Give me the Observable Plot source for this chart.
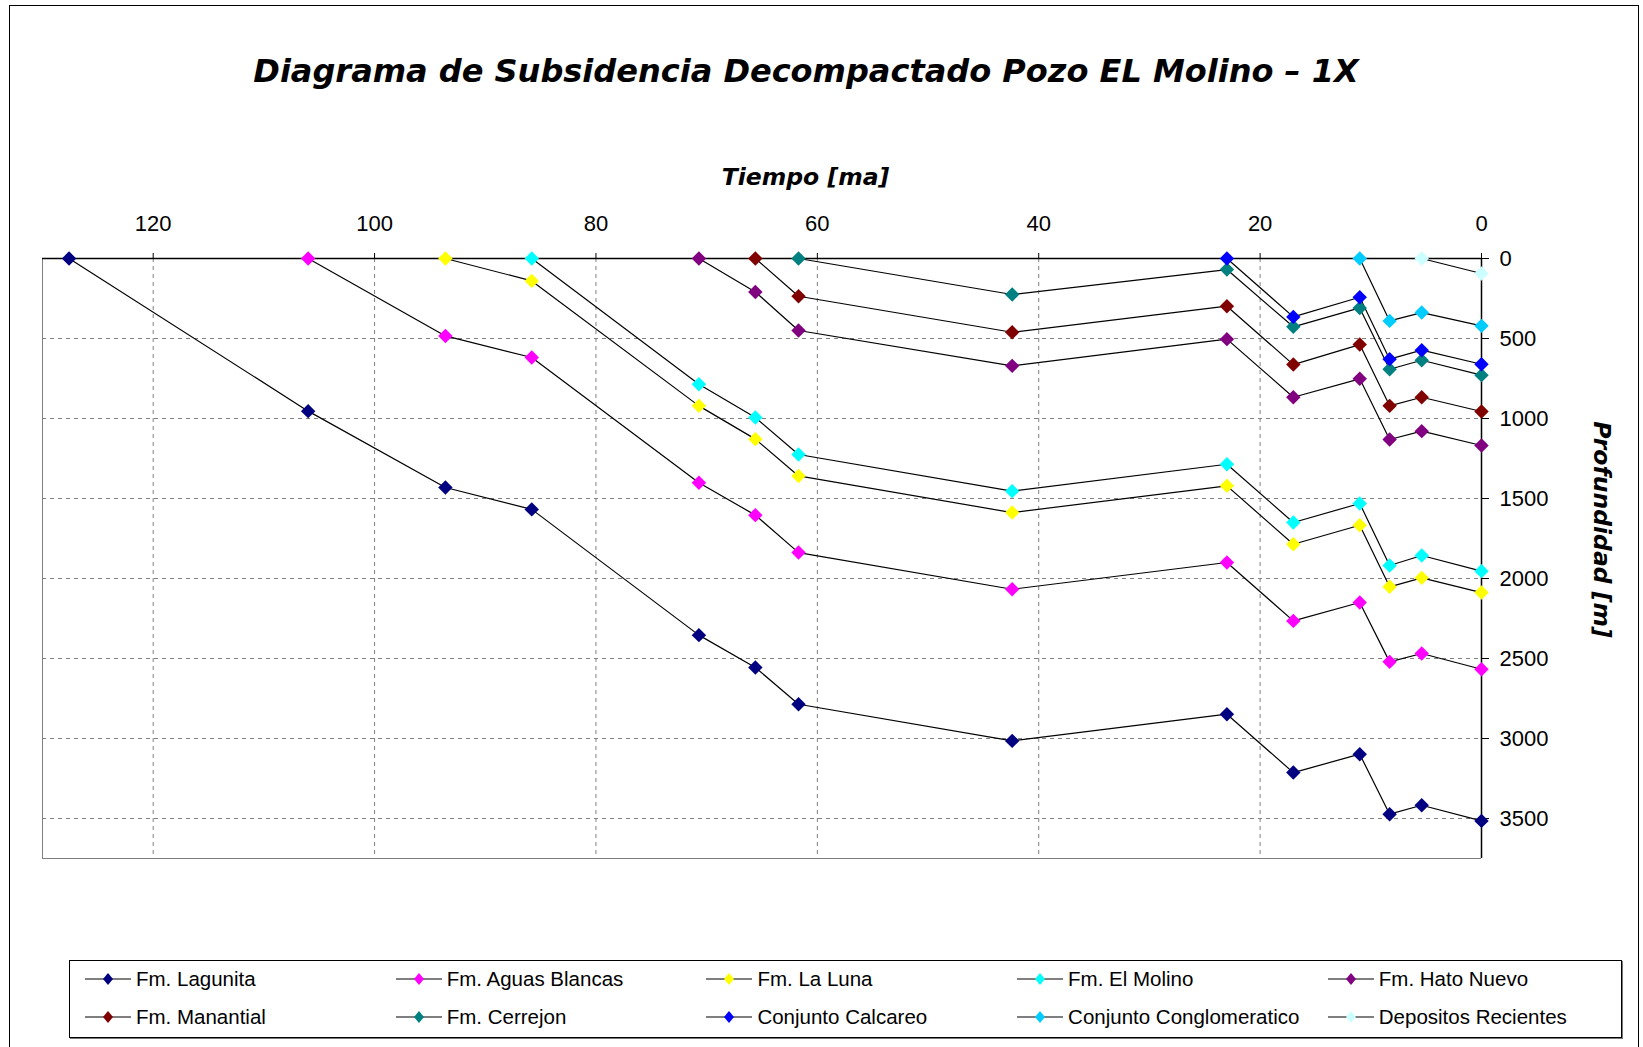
<!DOCTYPE html>
<html>
<head>
<meta charset="utf-8">
<script src="https://cdn.jsdelivr.net/npm/d3@7"></script>
<script src="https://cdn.jsdelivr.net/npm/@observablehq/plot@0.6"></script>
<style>
  html, body { margin: 0; padding: 0; background: #fff; overflow: hidden; }
  #page { position: relative; width: 1643px; height: 1047px; overflow: hidden; }
  #frame { position: absolute; left: 9px; top: 5px; width: 1630px; height: 1100px; border: 1px solid #000; box-sizing: border-box; pointer-events: none; }
  #title { position: relative; height: 150px; }
  #title div { position: absolute; left: 0; width: 1612px; top: 55px; text-align: center;
    font: italic bold 32px "DejaVu Sans"; line-height: 32px; color: #000; white-space: nowrap; }
  #chart svg { display: block; }
  #legend { position: absolute; left: 69px; top: 960px; width: 1553px; height: 78px; box-sizing: border-box;
    border: 1px solid #000; box-shadow: 1px 1px 0 #777; background: #fff; }
  .item { position: absolute; height: 20px; display: flex; align-items: center; white-space: nowrap;
    font: 20.5px "Liberation Sans"; color: #000; }
  .item svg { margin-right: 5px; }
</style>
</head>
<body>
<div id="page">
  <div id="frame"></div>
  <div id="title"><div>Diagrama de Subsidencia Decompactado Pozo EL Molino – 1X</div></div>
  <div id="chart"></div>
  <div id="legend"></div>
</div>
<script>
// Ages (Ma) of each time step, oldest to present
const ages = [127.6, 106, 93.6, 85.8, 70.7, 65.6, 61.7, 42.4, 23, 17, 11, 8.3, 5.4, 0];

// Decompacted depth (m) of the base of each unit, from its deposition age to present
const lagunita       = [0, 954, 1431, 1568, 2354, 2556, 2786, 3015, 2848, 3213, 3098, 3473, 3417, 3515];
const aguasBlancas   = [0, 484, 619, 1402, 1604, 1838, 2067, 1900, 2265, 2150, 2521, 2469, 2567];
const laLuna         = [0, 140, 921, 1129, 1359, 1588, 1421, 1786, 1667, 2052, 1996, 2088];
const elMolino       = [0, 786, 994, 1225, 1454, 1286, 1650, 1531, 1919, 1856, 1954];
const hatoNuevo      = [0, 209, 450, 671, 504, 867, 752, 1131, 1079, 1169];
const manantial      = [0, 236, 461, 298, 663, 538, 921, 867, 956];
const cerrejon       = [0, 225, 69, 427, 309, 692, 636, 729];
const calcareo       = [0, 365, 242, 629, 573, 661];
const conglomeratico = [0, 390, 338, 421];
const recientes      = [0, 94];

const seriesNames = ["Fm. Lagunita", "Fm. Aguas Blancas", "Fm. La Luna", "Fm. El Molino", "Fm. Hato Nuevo",
  "Fm. Manantial", "Fm. Cerrejon", "Conjunto Calcareo", "Conjunto Conglomeratico", "Depositos Recientes"];
const seriesValues = [lagunita, aguasBlancas, laLuna, elMolino, hatoNuevo, manantial, cerrejon, calcareo, conglomeratico, recientes];
const seriesColors = ["#000080", "#FF00FF", "#FFFF00", "#00FFFF", "#800080", "#800000", "#008080", "#0000FF", "#00CCFF", "#CCFFFF"];

const xTicks = [120, 100, 80, 60, 40, 20, 0];
const xGrid = [120, 100, 80, 60, 40, 20];
const yTicks = [0, 500, 1000, 1500, 2000, 2500, 3000, 3500];
const yGrid = [500, 1000, 1500, 2000, 2500, 3000, 3500];
const xDomain = [130, 0];
const yDomain = [0, 3750];

const xLabel = "Tiempo [ma]";
const yLabel = "Profundidad [m]";

// long table
const rows = [];
seriesValues.forEach((vals, i) => {
  const a = ages.slice(ages.length - vals.length);
  vals.forEach((v, j) => rows.push({series: seriesNames[i], age: a[j], depth: v}));
});

const grid = {stroke: "#808080", strokeDasharray: "4,4", strokeWidth: 1};
const labelFont = {fontFamily: "DejaVu Sans", fontWeight: "bold", fontStyle: "italic", fill: "#000", textAnchor: "middle", lineAnchor: "middle"};

const chart = Plot.plot({
  width: 1643,
  height: 730,
  marginLeft: 42,
  marginRight: 162,
  marginTop: 108,
  marginBottom: 22,
  style: {fontFamily: "Liberation Sans", fontSize: "22px", color: "#000", background: "transparent", overflow: "visible"},
  x: {domain: xDomain, axis: null},
  y: {domain: yDomain, reverse: true, axis: null},
  color: {domain: seriesNames, range: seriesColors},
  marks: [
    Plot.ruleY(yGrid, grid),
    Plot.ruleX(xGrid, grid),
    Plot.ruleX([xDomain[0]], {stroke: "#808080"}),
    Plot.ruleY([yDomain[1]], {stroke: "#808080"}),
    Plot.ruleY([0], {stroke: "#000", strokeWidth: 1.5}),
    Plot.ruleX([0], {stroke: "#000", strokeWidth: 1.5}),
    Plot.axisX({anchor: "top", ticks: xTicks, tickSize: 6, tickPadding: 22, fontSize: 22, label: null, tickFormat: d => String(d)}),
    Plot.axisY({anchor: "right", ticks: yTicks, tickSize: 7, tickPadding: 11, fontSize: 22, label: null, tickFormat: d => String(d)}),
    Plot.line(rows, {x: "age", y: "depth", z: "series", stroke: "#000", strokeWidth: 1.2}),
    Plot.dot(rows, {x: "age", y: "depth", fill: "series", symbol: "diamond2", r: 6.5, stroke: "none"}),
    Plot.text([xLabel], {text: d => d, frameAnchor: "top", dx: 43.5, dy: -81, fontSize: 23.5, ...labelFont}),
    Plot.text([yLabel], {text: d => d, frameAnchor: "right", rotate: 90, dx: 120, dy: -29, fontSize: 23.5, ...labelFont})
  ]
});
document.getElementById("chart").appendChild(chart);

// legend
const legend = document.getElementById("legend");
seriesNames.forEach((name, i) => {
  const col = i % 5, row = Math.floor(i / 5);
  const item = document.createElement("div");
  item.className = "item";
  item.style.left = (15 + col * 310.7) + "px";
  item.style.top = (8 + row * 38) + "px";
  item.innerHTML = `<svg width="46" height="14"><line x1="0" x2="46" y1="7" y2="7" stroke="#000" stroke-width="1.2"/>` +
    `<path d="M23,1 L28,7 L23,13 L18,7Z" fill="${seriesColors[i]}"/></svg><span>${name}</span>`;
  legend.appendChild(item);
});
</script>
</body>
</html>
